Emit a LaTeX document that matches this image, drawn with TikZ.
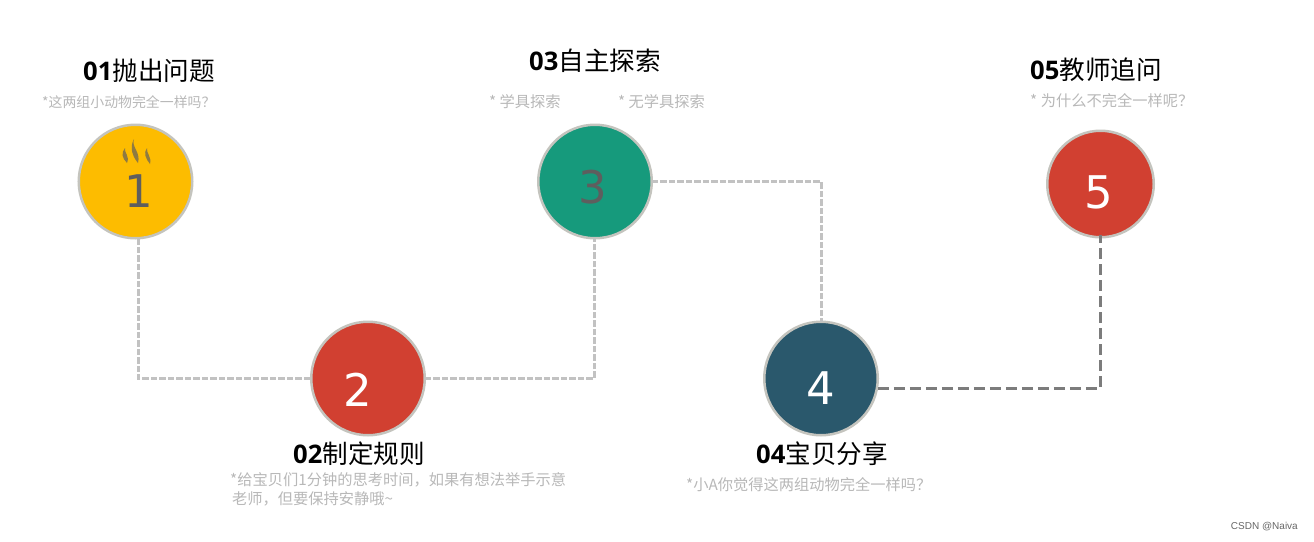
\documentclass[tikz,border=0pt]{standalone}
\usepackage{fontspec}
\setmainfont{Noto Sans CJK SC}
\newfontfamily\latinb{Open Sans}
\newfontfamily\digitf{DejaVu Sans}
\newfontfamily\wmf{Liberation Sans}
\definecolor{ringc}{HTML}{C4C4BE}
\definecolor{yel}{HTML}{FDBC00}
\definecolor{redc}{HTML}{D14031}
\definecolor{greenc}{HTML}{169A7C}
\definecolor{bluec}{HTML}{2A586C}
\definecolor{subc}{HTML}{B8B8B8}
\definecolor{lconn}{HTML}{C2C2C2}
\definecolor{dconn}{HTML}{7C7C7C}
\definecolor{dig}{HTML}{5E5E5E}
\tikzset{
  x=1pt,y=-1pt,
  disc/.style={circle,inner sep=0pt,outer sep=0pt,draw=ringc,line width=2.5pt,minimum size=113.5pt,text=white},
  digit/.style={font=\fontsize{45}{45}\selectfont\digitf},
  ttl/.style={anchor=west,inner sep=0pt,font=\fontsize{25.6}{30}\selectfont,text=black},
  subt/.style={anchor=west,inner sep=0pt,text=subc,font=\fontsize{13.9}{16}\selectfont},
  subm/.style={anchor=west,inner sep=0pt,text=subc,font=\fontsize{15.25}{18}\selectfont},
  lightconn/.style={draw=lconn,line width=3pt,dash pattern=on 6.5pt off 2pt},
  darkconn/.style={draw=dconn,line width=3pt,dash pattern=on 11pt off 5pt},
}
\newcommand{\bnum}[1]{{\latinb\bfseries #1}}
\begin{document}
\begin{tikzpicture}
\useasboundingbox[fill=white] (0,0) rectangle (1314,541);
% discs
\node[disc,fill=yel] (n1) at (135.5,181.5) {};
\node[disc,fill=redc] (n2) at (368,378.5) {};
\node[disc,fill=greenc] (n3) at (595,181.5) {};
\node[disc,fill=bluec] (n4) at (821,378.5) {};
\node[disc,fill=redc,minimum size=106.5pt] (n5) at (1100.5,184) {};
% digits
\node[digit,text=dig] (d1) at (139,191) {1};
\node[digit,text=white] (d2) at (358,390) {2};
\node[digit,text=dig] (d3) at (593,187) {3};
\node[digit,text=white] (d4) at (821,388) {4};
\node[digit,text=white] (d5) at (1099,192) {5};
% steam
\fill[dig!70!yel] (125,148) .. controls (124,153) and (130,156) .. (127,163) .. controls (122,158) and (121,153) .. cycle;
\fill[dig!70!yel] (134,139) .. controls (131,147) and (141,152) .. (138,163) .. controls (133,157) and (129,148) .. cycle;
\fill[dig!70!yel] (147,148) .. controls (146,153) and (152,157) .. (150,164) .. controls (146,159) and (143,153) .. cycle;
% connectors
\draw[lightconn] ([xshift=2.5pt]n1.south) |- (n2.west);
\draw[lightconn] (n2.east) -| ([xshift=-1pt]n3.south);
\draw[lightconn] (n3.east) -| (n4.north);
\draw[darkconn] ([yshift=-9.5pt]n4.east) -| ([yshift=2pt]n5.south);
% titles
\node[ttl] (t1) at (83,71) {\bnum{01}抛出问题};
\node[ttl] (t2) at (293,454) {\bnum{02}制定规则};
\node[ttl] (t3) at (529,61) {\bnum{03}自主探索};
\node[ttl] (t4) at (756,454) {\bnum{04}宝贝分享};
\node[ttl] (t5) at (1030,70) {\bnum{05}教师追问};
% subtitles
\node[subt] (s1) at (42,102) {*这两组小动物完全一样吗？};
\node[subm] (s2a) at (230,480) {*给宝贝们1分钟的思考时间，如果有想法举手示意};
\node[subm] (s2b) at (232,499) {老师，但要保持安静哦\textasciitilde};
\node[subm] (s3a) at (489,102) {* 学具探索};
\node[subm] (s3b) at (618,102) {* 无学具探索};
\node[subm] (s4) at (686,485) {*小A你觉得这两组动物完全一样吗？};
\node[subm] (s5) at (1030,101) {* 为什么不完全一样呢？};
\node[anchor=east,inner sep=0pt,text=black!60,font=\fontsize{10}{12}\selectfont\wmf] (wm) at (1298,527) {CSDN @Naiva};
\end{tikzpicture}
\end{document}
